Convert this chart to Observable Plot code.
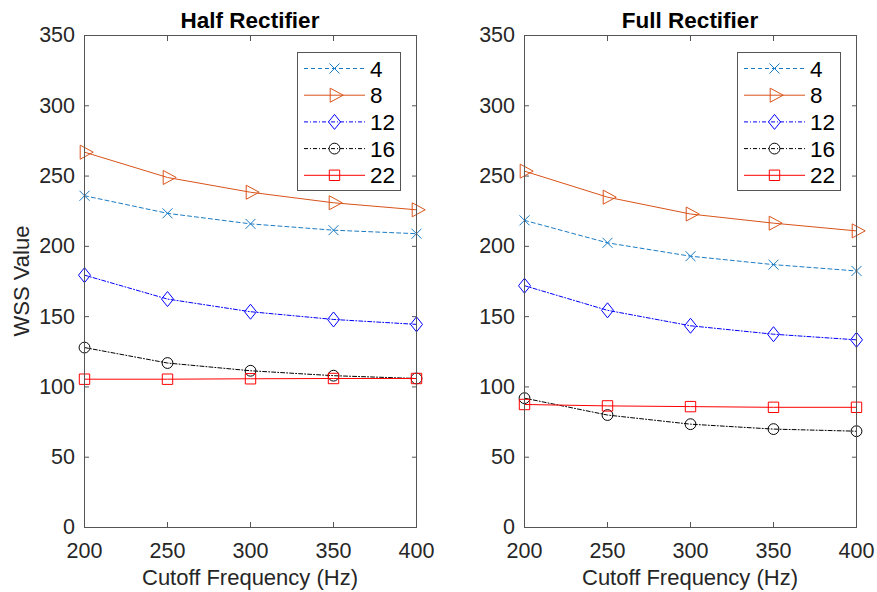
<!DOCTYPE html>
<html><head><meta charset="utf-8">
<script src="https://cdn.jsdelivr.net/npm/d3@7"></script>
<script src="https://cdn.jsdelivr.net/npm/@observablehq/plot@0.6"></script>
<style>
body{margin:0;background:#fff;}
#wrap{position:relative;width:877px;height:592px;overflow:hidden;background:#fff;font-family:"Liberation Sans",Arial,sans-serif;color:#262626;}
.panel{position:absolute;top:0;}
.title{position:absolute;font-weight:bold;font-size:22.5px;transform:translateX(-50%);white-space:nowrap;color:#000;line-height:1;}
.xlab{position:absolute;font-size:22px;transform:translateX(-50%);white-space:nowrap;line-height:1;}
.ylab{position:absolute;font-size:22px;white-space:nowrap;line-height:1;transform:translate(-50%,-50%) rotate(-90deg);}
.legend{position:absolute;}
</style></head><body><div id="wrap"></div>
<script>
// ---- data ----
const freqs = [200, 250, 300, 350, 400];
const seriesNames = ["4", "8", "12", "16", "22"];
const half4  = [236, 223.5, 216, 211.5, 209];
const half8  = [267, 249, 238.5, 231, 226];
const half12 = [179.5, 162.5, 153.5, 148, 144.5];
const half16 = [128, 117, 111.5, 108, 106];
const half22 = [105.5, 105.5, 105.8, 106, 106];
const full4  = [218.5, 202.5, 193, 187, 182.5];
const full8  = [253.5, 235, 223, 216.5, 211];
const full12 = [172, 154.5, 143.5, 137.5, 133.5];
const full16 = [92, 80, 73.5, 70, 68.5];
const full22 = [87.5, 86.5, 86, 85.5, 85.5];
const xTicks = [200, 250, 300, 350, 400];
const yTicks = [0, 50, 100, 150, 200, 250, 300, 350];
const panelTitles = ["Half Rectifier", "Full Rectifier"];
const xLabel = "Cutoff Frequency (Hz)";
const yLabel = "WSS Value";

// ---- symbols ----
const symTimes = h => ({draw(c){c.moveTo(-h,-h);c.lineTo(h,h);c.moveTo(-h,h);c.lineTo(h,-h);}});
const symTriRight = () => ({draw(c){c.moveTo(-4.3,-7);c.lineTo(8.7,0);c.lineTo(-4.3,7);c.closePath();}});
const symDiamond = (w,h) => ({draw(c){c.moveTo(0,-h);c.lineTo(w,0);c.lineTo(0,h);c.lineTo(-w,0);c.closePath();}});
const symCircle = r => ({draw(c){c.moveTo(r,0);c.arc(0,0,r,0,2*Math.PI);c.closePath();}});
const symSquare = h => ({draw(c){c.rect(-h,-h,2*h,2*h);}});

const styles = [
  {color:"#1a7cc4", dash:"4,3", sym:symTimes(5)},
  {color:"#D95319", dash:null, sym:symTriRight()},
  {color:"#0000FF", dash:"4,2,1,2", sym:symDiamond(6,7.5)},
  {color:"#000000", dash:"4,2,1,2", sym:symCircle(5.4)},
  {color:"#FF0000", dash:null, sym:symSquare(5.2)}
];

const wrap = document.getElementById("wrap");
const FONT = '"Liberation Sans",Arial,sans-serif';

function makePanel(values, left, width, mL, mR, title, showY) {
  const marks = [];
  values.forEach((vals, i) => {
    const d = freqs.map((f, j) => ({x: f, y: vals[j], s: seriesNames[i]}));
    const st = styles[i];
    marks.push(Plot.line(d, {x:"x", y:"y", stroke:st.color, strokeWidth:1, strokeDasharray:st.dash || undefined}));
    marks.push(Plot.dot(d, {x:"x", y:"y", stroke:st.color, fill:"none", strokeWidth:1, symbol:st.sym}));
  });
  const chart = Plot.plot({
    width, height:592, marginTop:35, marginBottom:65, marginLeft:mL, marginRight:mR,
    x:{domain:[200,400]}, y:{domain:[0,350]},
    style:{fontFamily:FONT, fontSize:"21.5px", background:"transparent", overflow:"visible", color:"#262626"},
    marks:[
      Plot.axisX({ticks:xTicks, tickSize:-5, tickPadding:20, label:null, stroke:"#555", fill:"#262626"}),
      Plot.axisX({anchor:"top", ticks:xTicks, tickSize:-5, tickFormat:()=>"", label:null, stroke:"#555"}),
      Plot.axisY({ticks:yTicks, tickSize:-5, tickPadding:14.5, label:null, stroke:"#555", fill:"#262626"}),
      Plot.axisY({anchor:"right", ticks:yTicks, tickSize:-5, tickFormat:()=>"", label:null, stroke:"#555"}),
      ...marks,
      Plot.frame({stroke:"#555", strokeWidth:1})
    ]
  });
  chart.classList.add("panel");
  chart.style.left = left + "px";
  wrap.appendChild(chart);

  const cx = left + mL + (width - mL - mR) / 2;
  const t = document.createElement("div");
  t.className = "title"; t.textContent = title;
  t.style.left = cx + "px"; t.style.top = "10px";
  wrap.appendChild(t);

  const xl = document.createElement("div");
  xl.className = "xlab"; xl.textContent = xLabel;
  xl.style.left = cx + "px"; xl.style.top = "567px";
  wrap.appendChild(xl);

  if (showY) {
    const yl = document.createElement("div");
    yl.className = "ylab"; yl.textContent = yLabel;
    yl.style.left = (left + 22) + "px"; yl.style.top = "281px";
    wrap.appendChild(yl);
  }

  // legend (northeast, inside axes)
  const lgX = left + width - mR - 119, lgY = 52, lgW = 104, lgH = 139;
  const svg = d3.select(wrap).append("svg").attr("class","legend")
    .style("left", lgX + "px").style("top", lgY + "px")
    .attr("width", lgW + 1).attr("height", lgH + 1);
  svg.append("rect").attr("x",0.5).attr("y",0.5).attr("width",lgW-1).attr("height",lgH-1)
    .attr("fill","#fff").attr("stroke","#555");
  seriesNames.forEach((name, i) => {
    const st = styles[i];
    const y = 16.5 + i * 26.7;
    const g = svg.append("g");
    g.append("line").attr("x1",7).attr("x2",68).attr("y1",y).attr("y2",y)
      .attr("stroke",st.color).attr("stroke-width",1).attr("stroke-dasharray",st.dash);
    const p = d3.path(); st.sym.draw(p);
    g.append("path").attr("d", p.toString()).attr("transform",`translate(37.5,${y})`)
      .attr("fill","none").attr("stroke",st.color).attr("stroke-width",1);
    g.append("text").attr("x",73).attr("y",y).attr("dy","0.36em")
      .attr("font-family",FONT).attr("font-size","22.5px").attr("fill","#000").text(name);
  });
}

makePanel([half4, half8, half12, half16, half22], 0, 438, 84, 22, panelTitles[0], true);
makePanel([full4, full8, full12, full16, full22], 438, 439, 86, 21, panelTitles[1], false);
</script>
</body></html>
